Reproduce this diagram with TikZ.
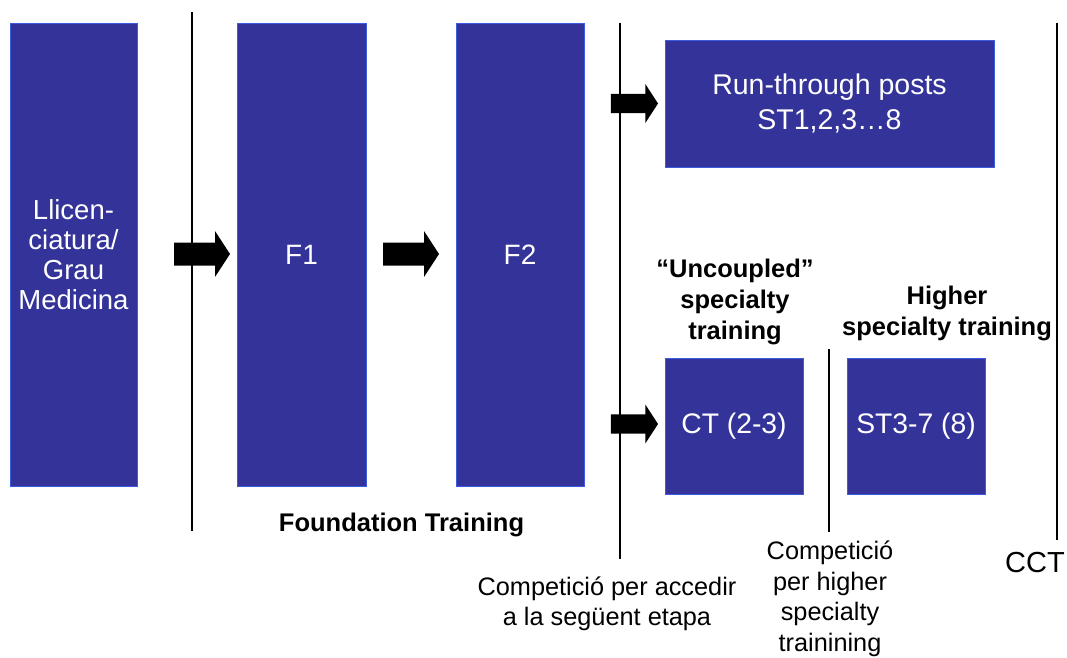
\documentclass[tikz,border=0pt]{standalone}
\usepackage{fontspec}
\setmainfont{Liberation Sans}
\usepackage{tikz}
\definecolor{stageblue}{HTML}{333399}
\definecolor{stageedge}{HTML}{3D5BE0}

\tikzset{
  stagebox/.style={draw=stageedge,line width=0.8pt,fill=stageblue,text=white,align=center,inner sep=0pt},
  divider/.style={black,line width=1.2pt},
  boldnote/.style={align=center,font=\fontsize{25.5}{31}\selectfont\bfseries},
  plainnote/.style={align=center,font=\fontsize{25.3}{30.5}\selectfont},
  blockarrow/.pic={\fill[black] (-28,-11.5) -- (13,-11.5) -- (13,-23) -- (28,0) -- (13,23) -- (13,11.5) -- (-28,11.5) -- cycle;}
}

\begin{document}
\begin{tikzpicture}[x=1pt,y=-1pt]
    \useasboundingbox (0,0) rectangle (1067,657);

    % Dividers
    \draw[divider] (192,12) -- (192,531);
    \draw[divider] (620,23) -- (620,559);
    \draw[divider] (829,349) -- (829,532);
    \draw[divider] (1057,23) -- (1057,540);

    % Foundation stages
    \node[stagebox,minimum width=127pt,minimum height=463pt,font=\fontsize{27.5}{30}\selectfont] (grau) at (73.5,254.5) {Llicen-\\ciatura/\\Grau\\Medicina};
    \node[stagebox,minimum width=129pt,minimum height=463pt,font=\fontsize{28}{33}\selectfont] (fone) at (301.5,254.5) {F1};
    \node[stagebox,minimum width=128pt,minimum height=463pt,font=\fontsize{28}{33}\selectfont] (ftwo) at (520,254.5) {F2};

    % Specialty stages
    \node[stagebox,minimum width=329pt,minimum height=127pt,font=\fontsize{28.5}{35}\selectfont] (runthrough) at (829.5,103.5) {Run-through posts\\ST1,2,3…8};
    \node[stagebox,minimum width=138pt,minimum height=136pt,font=\fontsize{28.3}{33}\selectfont] (core) at (734,426) {CT (2-3)};
    \node[stagebox,minimum width=138pt,minimum height=136pt,font=\fontsize{28.3}{33}\selectfont] (higher) at (916,426) {ST3-7 (8)};

    % Block arrows
    \pic at (202,254) {blockarrow};
    \pic at (411,254) {blockarrow};
    \pic[scale=0.84] at (634.5,103.5) {blockarrow};
    \pic[scale=0.84] at (634.5,424) {blockarrow};

    % Headings
    \node[boldnote] (uncoupled) at (735,302) {“Uncoupled”\\specialty\\training};
    \node[boldnote] (highertitle) at (947,313) {Higher\\specialty training};
    \node[boldnote] (foundation) at (401.5,525) {Foundation Training};

    % Notes below
    \node[plainnote] (nextstage) at (607,604) {Competició per accedir\\a la següent etapa};
    \node[plainnote] (higherentry) at (830,599) {Competició\\per higher\\specialty\\trainining};
    \node[font=\fontsize{29}{33}\selectfont] (cct) at (1035,563) {CCT};
\end{tikzpicture}
\end{document}
